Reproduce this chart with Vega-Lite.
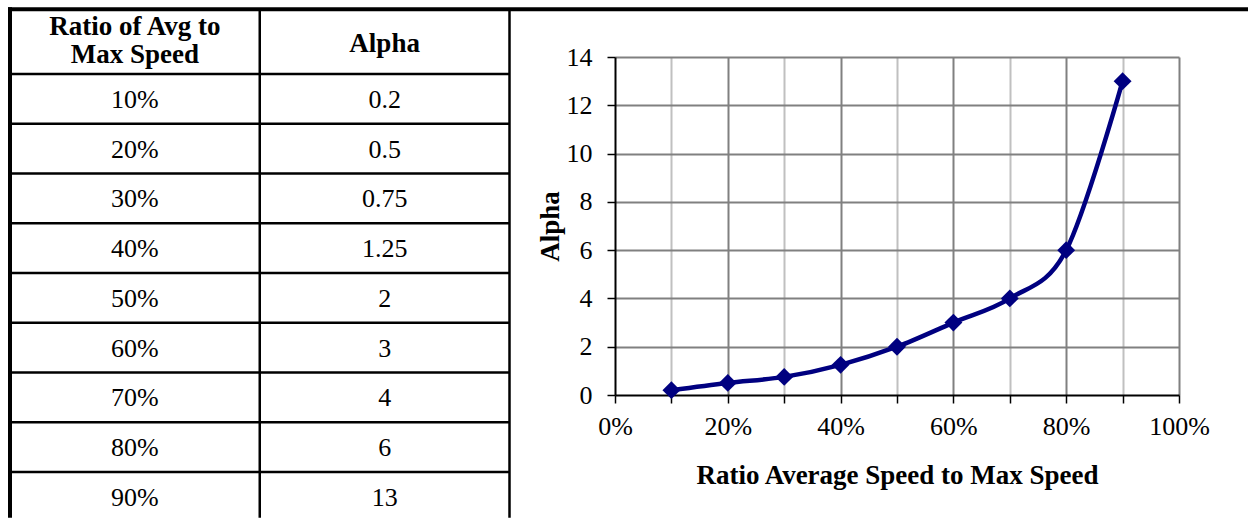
{
  "$schema": "https://vega.github.io/schema/vega-lite/v6.json",
  "width": 564,
  "height": 338,
  "padding": {"left": 7, "top": 6, "right": 0, "bottom": 0},
  "autosize": {"type": "pad"},
  "background": "white",
  "config": {"view": {"stroke": null}, "font": "Liberation Serif"},
  "datasets": {
    "table": [
      {"row": 1, "speed": "10%", "alpha": "0.2"},
      {"row": 2, "speed": "20%", "alpha": "0.5"},
      {"row": 3, "speed": "30%", "alpha": "0.75"},
      {"row": 4, "speed": "40%", "alpha": "1.25"},
      {"row": 5, "speed": "50%", "alpha": "2"},
      {"row": 6, "speed": "60%", "alpha": "3"},
      {"row": 7, "speed": "70%", "alpha": "4"},
      {"row": 8, "speed": "80%", "alpha": "6"},
      {"row": 9, "speed": "90%", "alpha": "13"}
    ],
    "headerLeft": [
      {"col": 0.5, "row": -0.15, "label": "Ratio of Avg to\nMax Speed"}
    ],
    "headerRight": [
      {"col": 1.5, "row": -0.1, "label": "Alpha"}
    ],
    "innerLines": [
      {"x": 0, "x2": 2, "y": 0.5, "y2": 0.5},
      {"x": 0, "x2": 2, "y": 1.5, "y2": 1.5},
      {"x": 0, "x2": 2, "y": 2.5, "y2": 2.5},
      {"x": 0, "x2": 2, "y": 3.5, "y2": 3.5},
      {"x": 0, "x2": 2, "y": 4.5, "y2": 4.5},
      {"x": 0, "x2": 2, "y": 5.5, "y2": 5.5},
      {"x": 0, "x2": 2, "y": 6.5, "y2": 6.5},
      {"x": 0, "x2": 2, "y": 7.5, "y2": 7.5},
      {"x": 0, "x2": 2, "y": 8.5, "y2": 8.5},
      {"x": 1, "x2": 1, "y": -0.8, "y2": 9.42},
      {"x": 2, "x2": 2, "y": -0.8, "y2": 9.42}
    ],
    "outerLines": [
      {"x": 0, "x2": 4.952, "y": -0.8, "y2": -0.8},
      {"x": 0, "x2": 0, "y": -0.8, "y2": 9.38}
    ],
    "curve": [
      {"ratio": 0.1, "alpha": 0.2},
      {"ratio": 0.2, "alpha": 0.5},
      {"ratio": 0.3, "alpha": 0.75},
      {"ratio": 0.4, "alpha": 1.25},
      {"ratio": 0.5, "alpha": 2},
      {"ratio": 0.6, "alpha": 3},
      {"ratio": 0.7, "alpha": 4},
      {"ratio": 0.8, "alpha": 6},
      {"ratio": 0.9, "alpha": 13}
    ]
  },
  "layer": [
    {
      "layer": [
        {
          "data": {"name": "innerLines"},
          "mark": {"type": "rule", "color": "black", "strokeWidth": 2.5},
          "encoding": {
            "x": {"field": "x", "type": "quantitative", "scale": {"domain": [0, 2], "range": [-605, -105.5], "nice": false, "zero": false}, "axis": null},
            "x2": {"field": "x2"},
            "y": {"field": "y", "type": "quantitative", "scale": {"domain": [0.5, 9.5], "range": [17, 464.75], "nice": false, "zero": false}, "axis": null},
            "y2": {"field": "y2"}
          }
        },
        {
          "data": {"name": "outerLines"},
          "mark": {"type": "rule", "color": "black", "strokeWidth": 4, "strokeCap": "square"},
          "encoding": {
            "x": {"field": "x", "type": "quantitative", "axis": null},
            "x2": {"field": "x2"},
            "y": {"field": "y", "type": "quantitative", "axis": null},
            "y2": {"field": "y2"}
          }
        },
        {
          "data": {"name": "table"},
          "mark": {"type": "text", "fontSize": 26, "color": "black", "align": "center", "baseline": "middle", "dy": 1},
          "encoding": {
            "x": {"datum": 0.5, "type": "quantitative", "axis": null},
            "y": {"field": "row", "type": "quantitative", "axis": null},
            "text": {"field": "speed"}
          }
        },
        {
          "data": {"name": "table"},
          "mark": {"type": "text", "fontSize": 26, "color": "black", "align": "center", "baseline": "middle", "dy": 1},
          "encoding": {
            "x": {"datum": 1.5, "type": "quantitative", "axis": null},
            "y": {"field": "row", "type": "quantitative", "axis": null},
            "text": {"field": "alpha"}
          }
        },
        {
          "data": {"name": "headerLeft"},
          "mark": {"type": "text", "fontSize": 27, "fontWeight": "bold", "color": "black", "align": "center", "baseline": "middle", "lineBreak": "\n", "lineHeight": 28, "dy": -15},
          "encoding": {
            "x": {"field": "col", "type": "quantitative", "axis": null},
            "y": {"field": "row", "type": "quantitative", "axis": null},
            "text": {"field": "label"}
          }
        },
        {
          "data": {"name": "headerRight"},
          "mark": {"type": "text", "fontSize": 27, "fontWeight": "bold", "color": "black", "align": "center", "baseline": "middle"},
          "encoding": {
            "x": {"field": "col", "type": "quantitative", "axis": null},
            "y": {"field": "row", "type": "quantitative", "axis": null},
            "text": {"field": "label"}
          }
        }
      ]
    },
    {
      "data": {"name": "curve"},
      "encoding": {
        "x": {
          "field": "ratio",
          "type": "quantitative",
          "scale": {"domain": [0, 1], "nice": false, "zero": false},
          "axis": {
            "values": [0, 0.1, 0.2, 0.3, 0.4, 0.5, 0.6, 0.7, 0.8, 0.9, 1],
            "format": ".0%",
            "labelExpr": "round(datum.value*10)%2==0 ? datum.label : ''",
            "labelFlush": false,
            "labelOverlap": false,
            "grid": true,
            "gridColor": {"condition": {"test": "round(datum.value*10)%2==0", "value": "#808080"}, "value": "#c0c0c0"},
            "gridOpacity": {"condition": {"test": "datum.value==0", "value": 0}, "value": 1},
            "gridWidth": 2,
            "domainColor": "black",
            "domainWidth": 2,
            "tickColor": "black",
            "tickSize": 8,
            "tickWidth": 1.5,
            "labelFont": "Liberation Serif",
            "labelFontSize": 26,
            "labelColor": "black",
            "labelPadding": 10,
            "title": "Ratio Average Speed to Max Speed",
            "titleFont": "Liberation Serif",
            "titleFontSize": 27,
            "titleFontWeight": "bold",
            "titleColor": "black",
            "titlePadding": 23
          }
        },
        "y": {
          "field": "alpha",
          "type": "quantitative",
          "scale": {"domain": [0, 14], "nice": false, "zero": false},
          "axis": {
            "values": [0, 2, 4, 6, 8, 10, 12, 14],
            "grid": true,
            "gridColor": "#808080",
            "gridOpacity": {"condition": {"test": "datum.value==0", "value": 0}, "value": 1},
            "gridWidth": 2,
            "domainColor": "black",
            "domainWidth": 2,
            "tickColor": "black",
            "tickSize": 8,
            "tickWidth": 1.5,
            "labelFont": "Liberation Serif",
            "labelFontSize": 26,
            "labelColor": "black",
            "labelPadding": 15,
            "title": "Alpha",
            "titleFont": "Liberation Serif",
            "titleFontSize": 27,
            "titleFontWeight": "bold",
            "titleColor": "black",
            "titlePadding": 2
          }
        }
      },
      "layer": [
        {"mark": {"type": "line", "interpolate": "cardinal", "color": "#000080", "strokeWidth": 4.5}},
        {"mark": {"type": "point", "shape": "diamond", "filled": true, "size": 320, "color": "#000080", "opacity": 1}}
      ]
    }
  ],
  "resolve": {"scale": {"x": "independent", "y": "independent"}}
}
